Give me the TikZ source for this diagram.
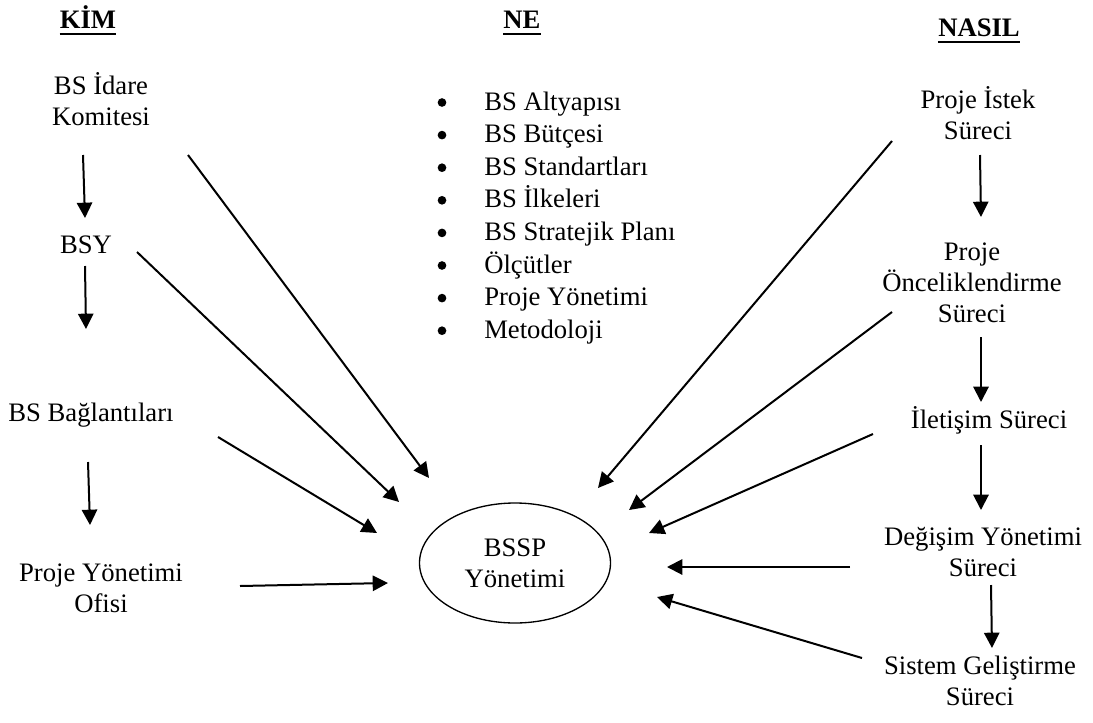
\documentclass[tikz,border=0pt]{standalone}
\usepackage{fontspec}
\setmainfont{Liberation Serif}
\usetikzlibrary{arrows.meta,shapes.geometric}
\begin{document}
\begin{tikzpicture}[x=0.75pt,y=-0.75pt,
  lbl/.style={font=\fontsize{20}{23.25}\selectfont, inner sep=0pt, align=center, anchor=base},
  head/.style={lbl, font=\fontsize{20}{23.25}\selectfont\bfseries},
  item/.style={font=\fontsize{20}{23.25}\selectfont, inner sep=0pt, anchor=base west},
  dot/.style={circle, fill=black, inner sep=0pt, minimum size=6.5pt},
  conn/.style={line width=1.5pt, -{Triangle[length=11.5pt,width=11.5pt]}},
  uline/.style={line width=1.4pt}]
\useasboundingbox (0,0) rectangle (1093,722);

% column headings
\node[head] (kim) at (88,28) {KİM};
\node[head] (ne) at (522,28) {NE};
\node[head] (nasil) at (979,36) {NASIL};
\foreach \h in {kim,ne,nasil}
  \draw[uline] ([yshift=-4.5]\h.base west) -- ([yshift=-4.5]\h.base east);

% left column: who (anchored on the last line's baseline)
\node[lbl] (idare) at (101,125) {BS İdare\\Komitesi};
\node[lbl] (bsy) at (86,253) {BSY};
\node[lbl] (bag) at (91,421) {BS Bağlantıları};
\node[lbl] (pyo) at (101,612) {Proje Yönetimi\\Ofisi};

% middle column: what
\foreach \t [count=\i] in {BS Altyapısı,BS Bütçesi,BS Standartları,BS İlkeleri,BS Stratejik Planı,Ölçütler,Proje Yönetimi,Metodoloji}{
  \node[dot] (b\i) at (442,{110+32.6*(\i-1)-7.5}) {};
  \node[item] (w\i) at (484,{110+32.6*(\i-1)}) {\t};
}

% centre
\node[draw, line width=1pt, ellipse, inner sep=0pt, minimum width=143.25pt, minimum height=90pt,
      font=\fontsize{20}{23.25}\selectfont, align=center] (bssp) at (515,563) {BSSP\\Yönetimi};

% right column: how
\node[lbl] (istek) at (978,139) {Proje İstek\\Süreci};
\node[lbl] (oncel) at (972,322) {Proje\\Önceliklendirme\\Süreci};
\node[lbl] (ilet) at (989,428) {İletişim Süreci};
\node[lbl] (degis) at (983,576) {Değişim Yönetimi\\Süreci};
\node[lbl] (sistem) at (980,705) {Sistem Geliştirme\\Süreci};

% connector end points
\coordinate (a1s) at (83,155);  \coordinate (a1e) at (85,218);
\coordinate (a2s) at (85,266);  \coordinate (a2e) at (86,329);
\coordinate (a3s) at (88,462);  \coordinate (a3e) at (90,525);
\coordinate (p1s) at (240,586); \coordinate (p1e) at (388,583);
\coordinate (d1s) at (188,155); \coordinate (d1e) at (429,478);
\coordinate (d2s) at (137,252); \coordinate (d2e) at (399,502);
\coordinate (d3s) at (218,437); \coordinate (d3e) at (377,533);

\coordinate (r1s) at (980,155); \coordinate (r1e) at (981,217);
\coordinate (r2s) at (981,337); \coordinate (r2e) at (981,402);
\coordinate (r3s) at (981,445); \coordinate (r3e) at (981,510);
\coordinate (r4s) at (991,585); \coordinate (r4e) at (992,648);
\coordinate (e1s) at (892,141); \coordinate (e1e) at (598,488);
\coordinate (e2s) at (892,312); \coordinate (e2e) at (629,510);
\coordinate (e3s) at (873,434); \coordinate (e3e) at (649,533);
\coordinate (e4s) at (850,567); \coordinate (e4e) at (667,567);
\coordinate (e5s) at (862,658); \coordinate (e5e) at (657,597);

\foreach \s/\e in {a1s/a1e,a2s/a2e,a3s/a3e,p1s/p1e,d1s/d1e,d2s/d2e,d3s/d3e,
                   r1s/r1e,r2s/r2e,r3s/r3e,r4s/r4e,e1s/e1e,e2s/e2e,e3s/e3e,e4s/e4e,e5s/e5e}
  \draw[conn] (\s) -- (\e);
\end{tikzpicture}
\end{document}
